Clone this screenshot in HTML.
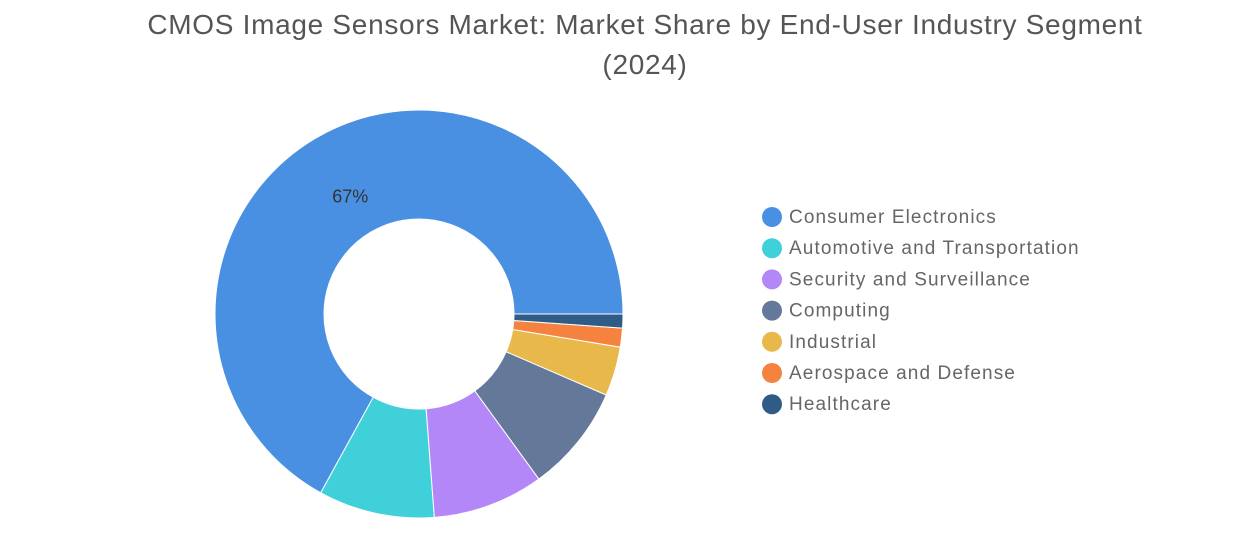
<!DOCTYPE html>
<html><head><meta charset="utf-8"><style>
body{margin:0;background:#fff;font-family:"Liberation Sans",sans-serif;}
#wrap{position:relative;width:1237px;height:541px;overflow:hidden}
</style></head><body>
<div id="wrap">
<svg id="svg" width="1237" height="541">
<text x="645" y="34" text-anchor="middle" font-size="28" letter-spacing="0.7" fill="#555">CMOS Image Sensors Market: Market Share by End-User Industry Segment</text>
<text x="645" y="74" text-anchor="middle" font-size="28" letter-spacing="0.7" fill="#555">(2024)</text>
<g id="slices"></g><g id="legend"></g>
</svg>
</div>
<script>
const categories=["Consumer Electronics","Automotive and Transportation","Security and Surveillance","Computing","Industrial","Aerospace and Defense","Healthcare"];
const values=[67,9.2,8.8,8.5,3.9,1.5,1.1];
const colors=["#4a90e2","#40d0da","#b487f8","#64789a","#e8b84a","#f5833f","#2e5c87"];
const labels=["67%","","","","","",""];
const NS="http://www.w3.org/2000/svg";
const cx=419,cy=314,R=204,r=95;
const total=values.reduce((a,b)=>a+b,0);
function pt(a,rad){const t=a*Math.PI/180;return [cx+rad*Math.sin(t),cy-rad*Math.cos(t)];}
let ang=90;
const sg=document.getElementById('slices');
values.forEach((v,i)=>{
 const sweep=v/total*360;const a0=ang,a1=ang-sweep;
 const large=sweep>180?1:0;
 const p0=pt(a0,R),p1=pt(a1,R),q1=pt(a1,r),q0=pt(a0,r);
 const p=document.createElementNS(NS,'path');
 p.setAttribute('d',`M${p0[0]},${p0[1]} A${R},${R} 0 ${large} 0 ${p1[0]},${p1[1]} L${q1[0]},${q1[1]} A${r},${r} 0 ${large} 1 ${q0[0]},${q0[1]} Z`);
 p.setAttribute('fill',colors[i]);p.setAttribute('stroke','#fff');p.setAttribute('stroke-width','1');
 
 
 sg.appendChild(p);
 if(labels[i]){
  const mid=(a0+a1)/2;const lp=pt(mid,R*0.72);
  const t=document.createElementNS(NS,'text');
  t.setAttribute('x',lp[0]+6);t.setAttribute('y',lp[1]+15);t.setAttribute('text-anchor','middle');
  t.setAttribute('font-size','18');t.setAttribute('fill','#333');t.textContent=labels[i];
  
  
  sg.appendChild(t);
 }
 ang=a1;
});
const lg=document.getElementById('legend');
categories.forEach((c,i)=>{
 const y=216+i*31.2;
 const g=document.createElementNS(NS,'g');
 
 
 const ci=document.createElementNS(NS,'circle');
 ci.setAttribute('cx',772);ci.setAttribute('cy',y+1);ci.setAttribute('r',10);ci.setAttribute('fill',colors[i]);
 const t=document.createElementNS(NS,'text');
 t.setAttribute('x',789);t.setAttribute('y',y+7);t.setAttribute('font-size','19');t.setAttribute('letter-spacing','1.1');t.setAttribute('fill','#666');
 t.textContent=c;
 g.appendChild(ci);g.appendChild(t);lg.appendChild(g);
});
</script>
</body></html>
